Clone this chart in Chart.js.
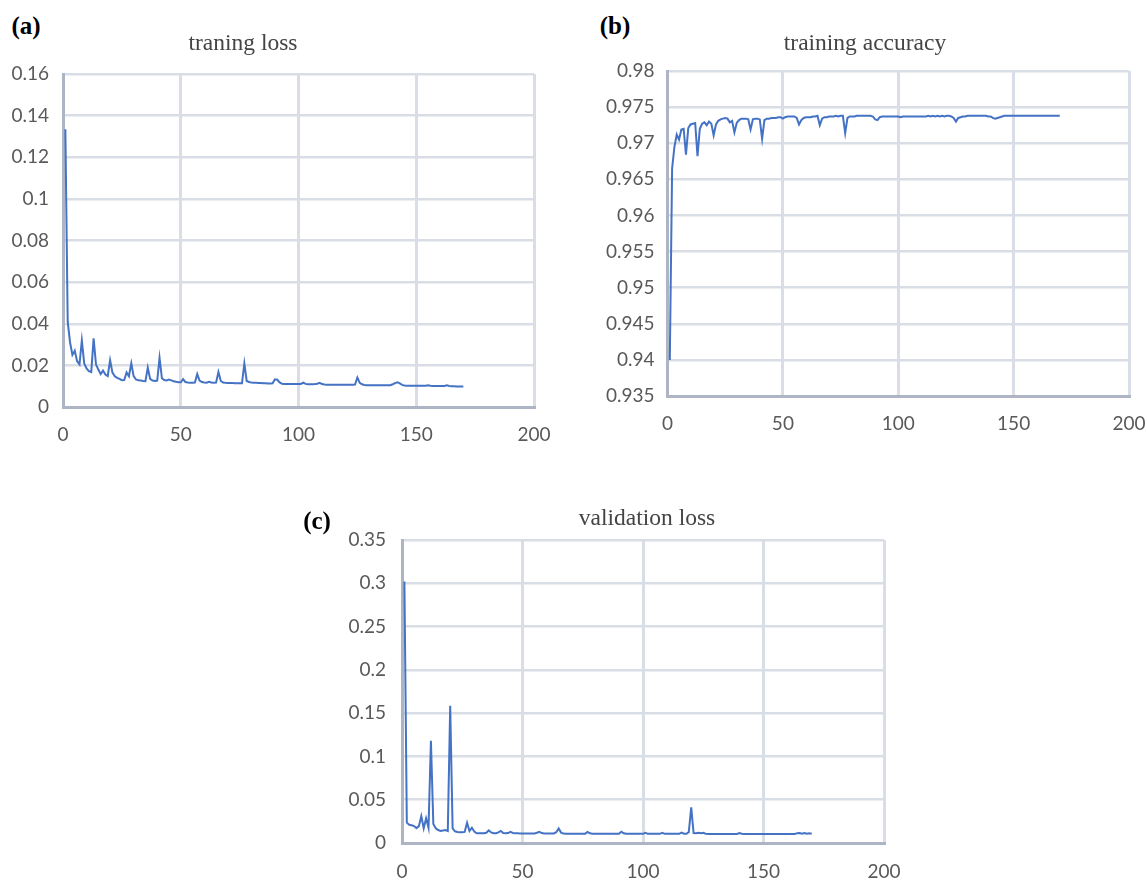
<!DOCTYPE html>
<html><head><meta charset="utf-8">
<script src="https://cdn.jsdelivr.net/npm/chart.js@4.4.1/dist/chart.umd.min.js"></script>
<style>
html,body{margin:0;padding:0;background:#fff;}
body{width:1147px;height:880px;position:relative;overflow:hidden;}
canvas{position:absolute;}
.title{position:absolute;font-family:"Liberation Serif","Times New Roman",serif;font-size:23.5px;line-height:23.5px;color:#444;white-space:nowrap;transform:translateX(-50%);}
.lab{position:absolute;font-family:"Liberation Serif","Times New Roman",serif;font-weight:bold;font-size:25px;line-height:25px;color:#000;white-space:nowrap;transform:translateX(-50%);}
</style></head>
<body>
<canvas id="ca" width="574" height="406" style="left:0px;top:44px"></canvas>
<canvas id="cb" width="620" height="409" style="left:570px;top:41px"></canvas>
<canvas id="cc" width="634" height="370" style="left:290px;top:510px"></canvas>
<div class="lab" style="left:26px;top:13px">(a)</div>
<div class="lab" style="left:615px;top:13px">(b)</div>
<div class="lab" style="left:317px;top:508px">(c)</div>
<div class="title" style="left:243px;top:31px">traning loss</div>
<div class="title" style="left:865px;top:31px">training accuracy</div>
<div class="title" style="left:647px;top:506px">validation loss</div>
<script>
// x tick values (epochs axis)
const xTicks = [0, 50, 100, 150, 200];
// y tick values
const yTicksLoss = [0, 0.02, 0.04, 0.06, 0.08, 0.1, 0.12, 0.14, 0.16];
const yTicksAcc = [0.935, 0.94, 0.945, 0.95, 0.955, 0.96, 0.965, 0.97, 0.975, 0.98];
const yTicksVal = [0, 0.05, 0.1, 0.15, 0.2, 0.25, 0.3, 0.35];

// training loss, epochs 1..170
const trainLoss = [
0.1335,0.041,0.031,0.025,0.027,0.022,0.0205,0.032,0.021,0.0185,
0.0172,0.0168,0.033,0.0205,0.018,0.0158,0.0175,0.0156,0.0149,0.0225,
0.0165,0.0148,0.014,0.0135,0.0129,0.013,0.0166,0.0148,0.021,0.0148,
0.0132,0.0128,0.0127,0.0125,0.0124,0.0189,0.0135,0.0127,0.0125,0.0127,
0.0236,0.0138,0.013,0.0128,0.0132,0.0128,0.0124,0.0121,0.0119,0.0119,
0.0134,0.012,0.0118,0.0117,0.0117,0.0118,0.0158,0.0127,0.012,0.0118,
0.0117,0.0121,0.0118,0.0116,0.0117,0.0168,0.0125,0.0118,0.0116,0.0115,
0.0115,0.0115,0.0114,0.0114,0.0114,0.0114,0.0209,0.0125,0.012,0.0118,
0.0117,0.0116,0.0115,0.0115,0.0114,0.0114,0.0113,0.0113,0.0114,0.0133,
0.0131,0.0118,0.0112,0.0111,0.0111,0.011,0.011,0.011,0.011,0.011,
0.0111,0.0117,0.0111,0.0109,0.0109,0.0109,0.011,0.0112,0.0116,0.011,
0.0108,0.0107,0.0107,0.0107,0.0107,0.0107,0.0107,0.0107,0.0107,0.0107,
0.0107,0.0107,0.0107,0.0108,0.0142,0.0116,0.0109,0.0106,0.0105,0.0105,
0.0104,0.0104,0.0104,0.0104,0.0104,0.0104,0.0104,0.0104,0.0105,0.0109,
0.0115,0.0119,0.0113,0.0106,0.0103,0.0102,0.0102,0.0102,0.0102,0.0102,
0.0102,0.0102,0.0102,0.0102,0.0104,0.0102,0.0101,0.0101,0.0101,0.0101,
0.0101,0.0101,0.0104,0.0101,0.01,0.01,0.0099,0.0099,0.0099,0.0099
];

// training accuracy, epochs 1..170
const trainAcc = [
0.94,0.9665,0.9695,0.9712,0.9705,0.9719,0.972,0.9684,0.9721,0.9726,
0.9727,0.9728,0.9682,0.972,0.9727,0.9729,0.9725,0.973,0.9727,0.9711,
0.9726,0.9731,0.9733,0.9734,0.9735,0.9734,0.9729,0.9731,0.9715,0.9728,
0.9732,0.9734,0.9734,0.9734,0.9733,0.9719,0.9733,0.9734,0.9734,0.9733,
0.9706,0.9732,0.9734,0.9734,0.9735,0.9735,0.9735,0.9736,0.9736,0.9734,
0.9736,0.9737,0.9737,0.9737,0.9737,0.9735,0.9726,0.9732,0.9735,0.9736,
0.9736,0.9736,0.9737,0.9737,0.9738,0.9725,0.9734,0.9736,0.9736,0.9737,
0.9737,0.9737,0.9738,0.9737,0.9738,0.9738,0.9714,0.9735,0.9737,0.9737,
0.9737,0.9738,0.9738,0.9738,0.9738,0.9738,0.9738,0.9738,0.9737,0.9733,
0.9732,0.9736,0.9737,0.9737,0.9737,0.9737,0.9737,0.9737,0.9737,0.9737,
0.9736,0.9737,0.9737,0.9737,0.9737,0.9737,0.9737,0.9737,0.9737,0.9737,
0.9737,0.9737,0.9738,0.9737,0.9738,0.9737,0.9738,0.9737,0.9738,0.9737,
0.9738,0.9738,0.9737,0.9735,0.973,0.9735,0.9736,0.9737,0.9737,0.9738,
0.9738,0.9738,0.9738,0.9738,0.9738,0.9738,0.9738,0.9738,0.9737,0.9737,
0.9735,0.9734,0.9735,0.9736,0.9737,0.9738,0.9738,0.9738,0.9738,0.9738,
0.9738,0.9738,0.9738,0.9738,0.9738,0.9738,0.9738,0.9738,0.9738,0.9738,
0.9738,0.9738,0.9738,0.9738,0.9738,0.9738,0.9738,0.9738,0.9738,0.9738
];

// validation loss, epochs 1..170
const valLoss = [
0.302,0.0235,0.021,0.0205,0.0196,0.0172,0.0195,0.031,0.017,0.0285,
0.0175,0.118,0.022,0.017,0.015,0.0139,0.0145,0.015,0.0139,0.1585,
0.017,0.0135,0.0128,0.0125,0.0124,0.0128,0.0235,0.0139,0.0177,0.0131,
0.0113,0.0112,0.0112,0.0112,0.0118,0.0146,0.0122,0.0112,0.0112,0.0122,
0.014,0.0115,0.0112,0.0115,0.0128,0.0116,0.0112,0.0112,0.0111,0.0111,
0.0111,0.0111,0.0111,0.0111,0.0111,0.0118,0.013,0.0115,0.0111,0.0111,
0.0111,0.0111,0.0111,0.0125,0.0168,0.012,0.0109,0.0108,0.0108,0.0108,
0.0108,0.0108,0.0108,0.0108,0.0108,0.0108,0.0127,0.0112,0.0107,0.0107,
0.0107,0.0107,0.0107,0.0107,0.0107,0.0107,0.0107,0.0107,0.0107,0.0107,
0.0131,0.0112,0.0106,0.0106,0.0106,0.0106,0.0106,0.0106,0.0106,0.0106,
0.0118,0.0106,0.0106,0.0106,0.0106,0.0106,0.0106,0.0118,0.0106,0.0106,
0.0106,0.0106,0.0106,0.0106,0.0106,0.012,0.0108,0.0106,0.0125,0.0412,
0.0115,0.0112,0.0118,0.0112,0.0118,0.0108,0.0105,0.0105,0.0105,0.0105,
0.0105,0.0105,0.0105,0.0105,0.0105,0.0105,0.0105,0.0105,0.0105,0.0116,
0.0108,0.0104,0.0104,0.0104,0.0104,0.0104,0.0104,0.0104,0.0104,0.0104,
0.0104,0.0104,0.0104,0.0104,0.0104,0.0104,0.0104,0.0104,0.0104,0.0104,
0.0104,0.0104,0.0104,0.0114,0.0116,0.0108,0.0115,0.0107,0.0113,0.0106
];

const epochs = trainLoss.map((_, i) => i + 1);

const TICK_FONT = {family: 'Lato, "Open Sans", sans-serif', size: 19};
const TICK_COLOR = '#595959';
const GRID_COLOR = '#d9dee6';
const AXIS_COLOR = '#adb5c4';
const LINE_COLOR = '#4472c4';

function fmt(v) { return String(parseFloat(Number(v).toFixed(4))); }

function makeChart(id, values, yTicks, o) {
  const pts = epochs.map((e, i) => ({x: e, y: values[i]}));
  new Chart(document.getElementById(id), {
    type: 'line',
    data: {datasets: [{data: pts, borderColor: LINE_COLOR, borderWidth: 2, pointRadius: 0, tension: 0, fill: false}]},
    options: {
      responsive: false, animation: false, devicePixelRatio: 1,
      layout: {padding: {left: 0, top: o.padTop, right: o.padRight, bottom: 0}},
      plugins: {legend: {display: false}, tooltip: {enabled: false}, title: {display: false}},
      scales: {
        x: {
          type: 'linear', min: xTicks[0], max: xTicks[xTicks.length - 1],
          afterBuildTicks: s => { s.ticks = xTicks.map(v => ({value: v})); },
          afterFit: s => { s.height = o.xAxisH; },
          grid: {color: GRID_COLOR, lineWidth: 3, drawTicks: false},
          border: {display: true, color: AXIS_COLOR, width: 3},
          ticks: {font: TICK_FONT, color: TICK_COLOR, padding: o.xPad, maxRotation: 0, callback: v => fmt(v)}
        },
        y: {
          type: 'linear', min: yTicks[0], max: yTicks[yTicks.length - 1],
          afterBuildTicks: s => { s.ticks = yTicks.map(v => ({value: v})); },
          afterFit: s => { s.width = o.yAxisW; },
          grid: {color: GRID_COLOR, lineWidth: 2.5, drawTicks: false},
          border: {display: true, color: AXIS_COLOR, width: 3},
          ticks: {font: TICK_FONT, color: TICK_COLOR, padding: o.yPad, callback: v => fmt(v)}
        }
      }
    }
  });
}

makeChart('ca', trainLoss, yTicksLoss, {padTop: 30, padRight: 40, xAxisH: 43, yAxisW: 63, xPad: 16, yPad: 14});
makeChart('cb', trainAcc, yTicksAcc, {padTop: 30, padRight: 61, xAxisH: 54, yAxisW: 97.5, xPad: 16, yPad: 13});
makeChart('cc', valLoss, yTicksVal, {padTop: 30, padRight: 40, xAxisH: 37, yAxisW: 112, xPad: 17, yPad: 16});
</script>
</body></html>
